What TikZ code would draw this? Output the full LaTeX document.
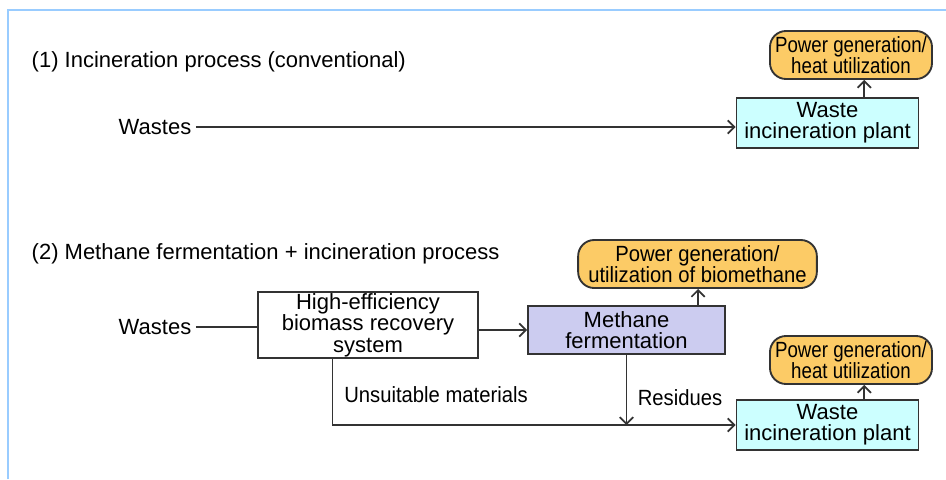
\documentclass[tikz,border=0pt]{standalone}
\usepackage{fontspec}
\setmainfont{Liberation Sans}
\newfontfamily\narrowfont[FakeStretch=0.85]{Liberation Sans}
\newfontfamily\semifont[FakeStretch=0.92]{Liberation Sans}
\usepackage{tikz}
\usetikzlibrary{arrows.meta, calc}
\definecolor{framecol}{HTML}{99CCFF}
\definecolor{linecol}{HTML}{333333}
\definecolor{plantcol}{HTML}{CCFFFF}
\definecolor{usecol}{HTML}{FCCB66}
\definecolor{fermcol}{HTML}{CCCCF0}

\begin{document}
\begin{tikzpicture}[x=0.75pt, y=-0.75pt, >={Straight Barb[length=5pt, width=10pt]},
  every node/.style={font=\fontsize{16.5}{16}\selectfont, align=center},
  narrow/.style={font=\narrowfont\fontsize{16.5}{16}\selectfont},
  semi/.style={font=\semifont\fontsize{16.5}{16}\selectfont},
  box/.style={draw=linecol, line width=1.4pt, inner sep=0pt},
  plantbox/.style={box, fill=plantcol, minimum width=136.5pt, minimum height=37pt},
  usebox/.style={box, rounded corners=12pt, fill=usecol, minimum height=36pt},
  flow/.style={draw=linecol, line width=1.3pt}]
  \useasboundingbox (0,0) rectangle (946,479);
  % Cadre
  \draw[framecol, line width=1.5pt] (8,479) -- (8,10) -- (946,10);
  % (1) Incineration
  \node[anchor=west] (titleA) at (27,62) {(1) Incineration process (conventional)};
  \node (wastesA) at (155,127) {Wastes};
  \node[plantbox] (plantA) at (827.5,123) {Waste\\incineration plant};
  \node[usebox, narrow, minimum width=121.5pt] (useA) at (851,55) {Power generation/\\heat utilization};
  \draw[flow, ->] (wastesA.east) -- (wastesA.east -| plantA.west);
  \coordinate (outA) at ($(plantA.north)!0.4!(plantA.north east)$);
  \draw[flow, ->] (outA) -- (outA |- useA.south);
  % (2) Methane fermentation + incineration
  \node[anchor=west] (titleB) at (27,254) {(2) Methane fermentation + incineration process};
  \node (wastesB) at (155,327) {Wastes};
  \node[box, fill=white, minimum width=165pt, minimum height=49.5pt] (recov) at (368,325) {High-efficiency\\biomass recovery\\system};
  \node[box, fill=fermcol, minimum width=147.75pt, minimum height=36pt] (ferm) at (626.5,330) {Methane\\fermentation};
  \node[usebox, semi, minimum width=179pt] (useM) at (697.5,264) {Power generation/\\utilization of biomethane};
  \node[plantbox] (plantB) at (827.5,425) {Waste\\incineration plant};
  \node[usebox, narrow, minimum width=121.5pt] (useB) at (851,360) {Power generation/\\heat utilization};
  \node[semi] (unsuitLbl) at (436,395) {Unsuitable materials};
  \node[semi] (resLbl) at (680,398) {Residues};
  %
  \draw[flow] (wastesB.east) -- (wastesB.east -| recov.west);
  \draw[flow, ->] (recov.east |- ferm.west) -- (ferm.west);
  \coordinate (outM) at ($(ferm.north)!0.72!(ferm.north east)$);
  \draw[flow, ->] (outM) -- (outM |- useM.south);
  \coordinate (unsuit) at ($(recov.south)!0.32!(recov.south west)$);
  \draw[flow, ->] (unsuit) |- (plantB.west);
  \draw[flow, ->] (ferm.south) -- (ferm.south |- plantB.west);
  \coordinate (outB) at ($(plantB.north)!0.4!(plantB.north east)$);
  \draw[flow, ->] (outB) -- (outB |- useB.south);
\end{tikzpicture}
\end{document}
